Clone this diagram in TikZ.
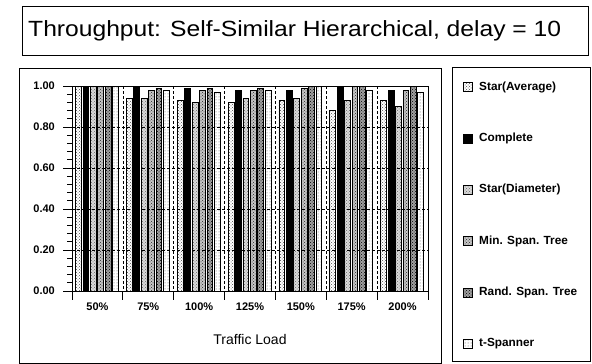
\documentclass[tikz,border=0pt]{standalone}
\usepackage{fontspec}
\setmainfont{Liberation Sans}
\newfontfamily\titlefont[FakeStretch=1.12]{Liberation Sans}
\usetikzlibrary{patterns}
\begin{document}
\begin{tikzpicture}[x=1pt,y=-1pt,
  frame/.style={draw=black, line width=1pt},
  grid/.style={draw=black, line width=0.7pt, dash pattern=on 3pt off 2pt},
  axis/.style={draw=black, line width=0.9pt},
  barA/.style={draw=black, line width=0.6pt, preaction={fill=white}, pattern=crosshatch dots, pattern color=gray!60!black},
  barB/.style={draw=black, line width=0.6pt, fill=black},
  barC/.style={draw=black, line width=0.6pt, preaction={fill=gray!30}, pattern=crosshatch dots, pattern color=gray!80!black},
  barD/.style={draw=black, line width=0.6pt, preaction={fill=gray!45}, pattern=crosshatch dots, pattern color=black!85},
  barE/.style={draw=black, line width=0.6pt, preaction={fill=gray!75}, pattern=crosshatch dots, pattern color=black},
  barF/.style={draw=black, line width=0.6pt, preaction={fill=white}, pattern=dots, pattern color=gray!70!black},
  ylab/.style={font=\bfseries\fontsize{11}{13}\selectfont, anchor=east, inner sep=0pt},
  xlab/.style={font=\bfseries\fontsize{11}{13}\selectfont, anchor=center, inner sep=0pt},
  leg/.style={font=\bfseries\fontsize{11.8}{13}\selectfont, anchor=west, inner sep=0pt}
]
\useasboundingbox (0,0) rectangle (592,364);
\fill[white] (0,0) rectangle (592,364);

% title
\draw[frame] (22,6) rectangle (588,55);
\node[anchor=west, inner sep=0pt, font=\titlefont\fontsize{22}{26}\selectfont] (title) at (28,31) {Throughput: Self-Similar Hierarchical, delay = 10};

% chart and legend frames
\draw[frame] (19,68) rectangle (441,363);
\draw[frame] (452,67) rectangle (590,361);

% bars
\foreach \st/\vals [count=\j from 0] in {
  barA/{1.00,0.94,0.93,0.92,0.93,0.88,0.93},
  barB/{1.00,1.00,0.99,0.98,0.98,1.00,0.98},
  barC/{1.00,0.94,0.92,0.94,0.94,0.93,0.90},
  barD/{1.00,0.98,0.98,0.98,0.99,1.00,0.98},
  barE/{1.00,0.99,0.99,0.99,1.00,1.00,1.00},
  barF/{1.00,0.98,0.97,0.98,1.00,0.98,0.97}} {
  \foreach \v [count=\i from 0] in \vals {
    \pgfmathsetmacro\xl{72+\i*50.857+3.5+\j*7.4}
    \pgfmathsetmacro\xr{\xl+5.8}
    \pgfmathsetmacro\yt{291-\v*205}
    \draw[\st] (\xl,291) rectangle (\xr,\yt);
  }
}

% gridlines
\foreach \k in {1,2,3,4} {
  \draw[grid] (72,{291-\k*41}) -- (428,{291-\k*41});
}
\foreach \i in {1,...,6} {
  \draw[grid] ({72+\i*50.857},86) -- ({72+\i*50.857},291);
}

% axes and frame
\draw[axis] (72,86) -- (428,86) -- (428,291);
\draw[axis] (72,86) -- (72,291) -- (428,291);

% y ticks
\foreach \k in {0,...,25} {
  \draw[axis, line width=0.7pt] (67,{291-\k*8.2}) -- (72,{291-\k*8.2});
}
\foreach \k/\t in {0/0.00,1/0.20,2/0.40,3/0.60,4/0.80,5/1.00} {
  \draw[axis] (63,{291-\k*41}) -- (72,{291-\k*41});
  \node[ylab] (y\k) at (55,{291-\k*41}) {\t};
}

% x ticks and labels
\foreach \i in {0,...,7} {
  \draw[axis] ({72+\i*50.857},291) -- ({72+\i*50.857},300);
}
\foreach \t [count=\i from 0] in {50\%,75\%,100\%,125\%,150\%,175\%,200\%} {
  \node[xlab] (x\i) at ({72+\i*50.857+25.4},307) {\t};
}
\node[font=\fontsize{14}{16}\selectfont, inner sep=0pt] (xtitle) at (250,339) {Traffic Load};

% legend
\foreach \st/\t [count=\i from 0] in {barA/Star(Average),barB/Complete,barC/Star(Diameter),barD/Min. Span. Tree,barE/Rand. Span. Tree,barF/t-Spanner} {
  \pgfmathsetmacro\yy{87+\i*51.4}
  \draw[\st] (463,\yy-4.5) rectangle (472,\yy+4.5);
  \node[leg] (l\i) at (479,\yy) {\t};
}
\end{tikzpicture}
\end{document}
